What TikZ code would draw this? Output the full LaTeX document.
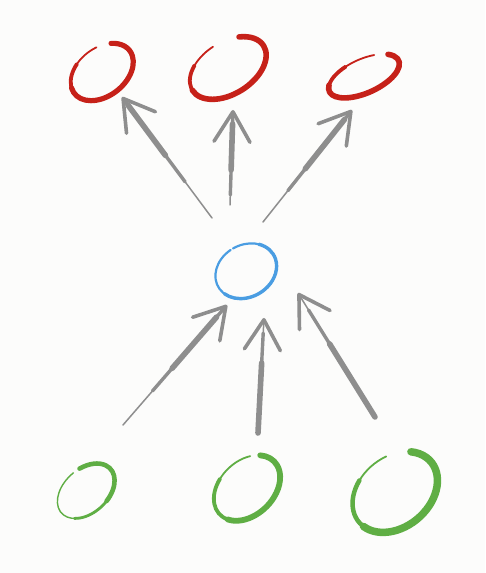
\documentclass[tikz,border=0pt]{standalone}
\usetikzlibrary{arrows.meta}
\definecolor{inkred}{HTML}{C62119}
\definecolor{inkblue}{HTML}{4A9DE2}
\definecolor{inkgreen}{HTML}{5FAE44}
\definecolor{inkgray}{HTML}{8E8E8E}
\definecolor{paper}{HTML}{FCFCFB}
\newcommand\inkring[5]{\draw[#1] (#4:#2 and #3) arc[start angle=#4, end angle=#5, x radius=#2, y radius=#3];}
\begin{document}
\begin{tikzpicture}[x=1pt,y=1pt,
  spot/.style={inner sep=0pt, minimum size=0pt},
  ring/.style={line cap=round, line join=round},
  arr/.style n args={4}{draw=inkgray, line width=1.5pt, line cap=round,
    -{Straight Barb[length=30pt,width=36pt,line width=3.6pt,round]},
    postaction={draw=inkgray, line width=3.4pt, arrows=-, shorten <=#1, shorten >=#2},
    postaction={draw=inkgray, line width=5.6pt, arrows=-, shorten <=#3, shorten >=#4}}]
\fill[paper] (0,0) rectangle (485,573);
\useasboundingbox (0,0) rectangle (485,573);

% nodes
\node[spot] (r1) at (102,501) {};
\node[spot] (r2) at (228,505) {};
\node[spot] (r3) at (364,497) {};
\node[spot] (b)  at (246,302) {};
\node[spot] (g1) at (86,82) {};
\node[spot] (g2) at (247,85) {};
\node[spot] (g3) at (395,81) {};

% red rings
\begin{scope}[shift={(r1.center)}, rotate=38]
  \inkring{ring, inkred, line width=1.8pt}{35}{24}{72}{405}
  \inkring{ring, inkred, line width=3.8pt}{35}{24}{115}{405}
  \inkring{ring, inkred, line width=5.2pt}{35}{24}{165}{405}
\end{scope}
\begin{scope}[shift={(r2.center)}, rotate=32]
  \inkring{ring, inkred, line width=1.8pt}{42}{26}{92}{412}
  \inkring{ring, inkred, line width=3.8pt}{42}{26}{130}{412}
  \inkring{ring, inkred, line width=5.6pt}{42}{26}{180}{412}
\end{scope}
\begin{scope}[shift={(r3.center)}, rotate=24]
  \inkring{ring, inkred, line width=1.8pt}{38}{17}{62}{396}
  \inkring{ring, inkred, line width=3.8pt}{38}{17}{110}{396}
  \inkring{ring, inkred, line width=5.6pt}{38}{17}{160}{396}
\end{scope}

% blue ring
\begin{scope}[shift={(b.center)}, rotate=30]
  \inkring{ring, inkblue, line width=2.2pt}{32}{26}{95}{450}
  \inkring{ring, inkblue, line width=3.4pt}{32}{26}{200}{400}
\end{scope}

% green rings
\begin{scope}[shift={(g1.center)}, rotate=42]
  \inkring{ring, inkgreen, line width=1.4pt}{33}{22}{85}{432}
  \inkring{ring, inkgreen, line width=2.8pt}{33}{22}{215}{432}
  \inkring{ring, inkgreen, line width=4.6pt}{33}{22}{285}{432}
\end{scope}
\begin{scope}[shift={(g2.center)}, rotate=44]
  \inkring{ring, inkgreen, line width=1.8pt}{38}{27}{50}{392}
  \inkring{ring, inkgreen, line width=3.8pt}{38}{27}{110}{392}
  \inkring{ring, inkgreen, line width=5.8pt}{38}{27}{200}{392}
\end{scope}
\begin{scope}[shift={(g3.center)}, rotate=40]
  \inkring{ring, inkgreen, line width=1.8pt}{47}{35}{70}{396}
  \inkring{ring, inkgreen, line width=4.5pt}{47}{35}{115}{396}
  \inkring{ring, inkgreen, line width=7.5pt}{47}{35}{190}{396}
\end{scope}

% connectors
\draw[arr={45pt}{4pt}{78pt}{10pt}] ([shift={(-34,53)}]b.center) -- ([shift={(20,-25)}]r1.center);
\draw[arr={10pt}{4pt}{35pt}{14pt}] ([shift={(-16,66)}]b.center) -- ([shift={(5,-42)}]r2.center);
\draw[arr={40pt}{4pt}{68pt}{12pt}] ([shift={(17,49)}]b.center) -- ([shift={(-12,-34)}]r3.center);
\draw[arr={45pt}{4pt}{75pt}{16pt}] ([shift={(37,66)}]g1.center) -- ([shift={(-19,-34)}]b.center);
\draw[arr={0pt}{15pt}{0pt}{45pt}] ([shift={(11,55)}]g2.center) -- ([shift={(18,-47)}]b.center);
\draw[arr={0pt}{20pt}{0pt}{60pt}] ([shift={(-20,75)}]g3.center) -- ([shift={(52,-22)}]b.center);
\end{tikzpicture}
\end{document}
